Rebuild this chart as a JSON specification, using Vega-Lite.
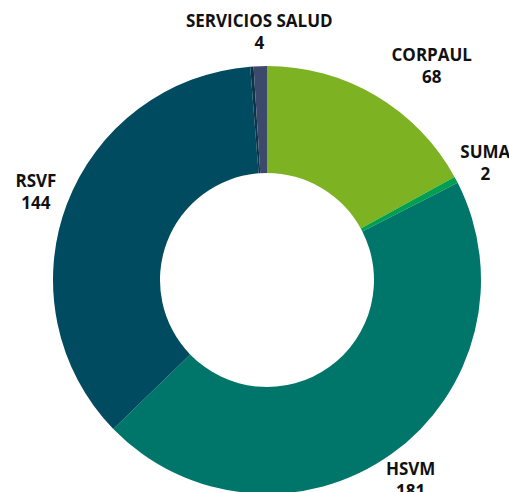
{
  "$schema": "https://vega.github.io/schema/vega-lite/v6.json",
  "width": 534,
  "height": 560,
  "autosize": {"type": "none"},
  "padding": 0,
  "background": "white",
  "config": {"view": {"stroke": null}},
  "data": {
    "values": [
      {"entidad": "CORPAUL", "valor": 68, "orden": 1},
      {"entidad": "SUMA", "valor": 2, "orden": 2},
      {"entidad": "HSVM", "valor": 181, "orden": 3},
      {"entidad": "RSVF", "valor": 144, "orden": 4},
      {"entidad": "OTROS", "valor": 1, "orden": 5},
      {"entidad": "SERVICIOS SALUD", "valor": 4, "orden": 6}
    ]
  },
  "encoding": {
    "theta": {"field": "valor", "type": "quantitative", "stack": true},
    "order": {"field": "orden", "type": "quantitative"}
  },
  "layer": [
    {
      "mark": {"type": "arc", "outerRadius": 214, "innerRadius": 107},
      "encoding": {
        "color": {
          "field": "entidad",
          "type": "nominal",
          "scale": {
            "domain": ["CORPAUL", "SUMA", "HSVM", "RSVF", "OTROS", "SERVICIOS SALUD"],
            "range": ["#7DB223", "#00A050", "#00756A", "#004B5F", "#0C3347", "#3B4A6B"]
          },
          "legend": null
        }
      }
    },
    {
      "mark": {"type": "text", "radius": 247, "dy": -11, "font": "Open Sans", "fontWeight": "bold", "fontSize": 17, "color": "#111111", "dx": {"expr": "datum.entidad === 'CORPAUL' ? 39 : 0"}},
      "encoding": {
        "text": {"condition": {"test": "datum.entidad === 'OTROS'", "value": ""}, "field": "entidad", "type": "nominal"}
      }
    },
    {
      "mark": {"type": "text", "radius": 247, "dy": 11, "font": "Open Sans", "fontWeight": "bold", "fontSize": 17, "color": "#111111", "dx": {"expr": "datum.entidad === 'CORPAUL' ? 39 : 0"}},
      "encoding": {
        "text": {"condition": {"test": "datum.entidad === 'OTROS'", "value": ""}, "field": "valor", "type": "quantitative"}
      }
    }
  ]
}
